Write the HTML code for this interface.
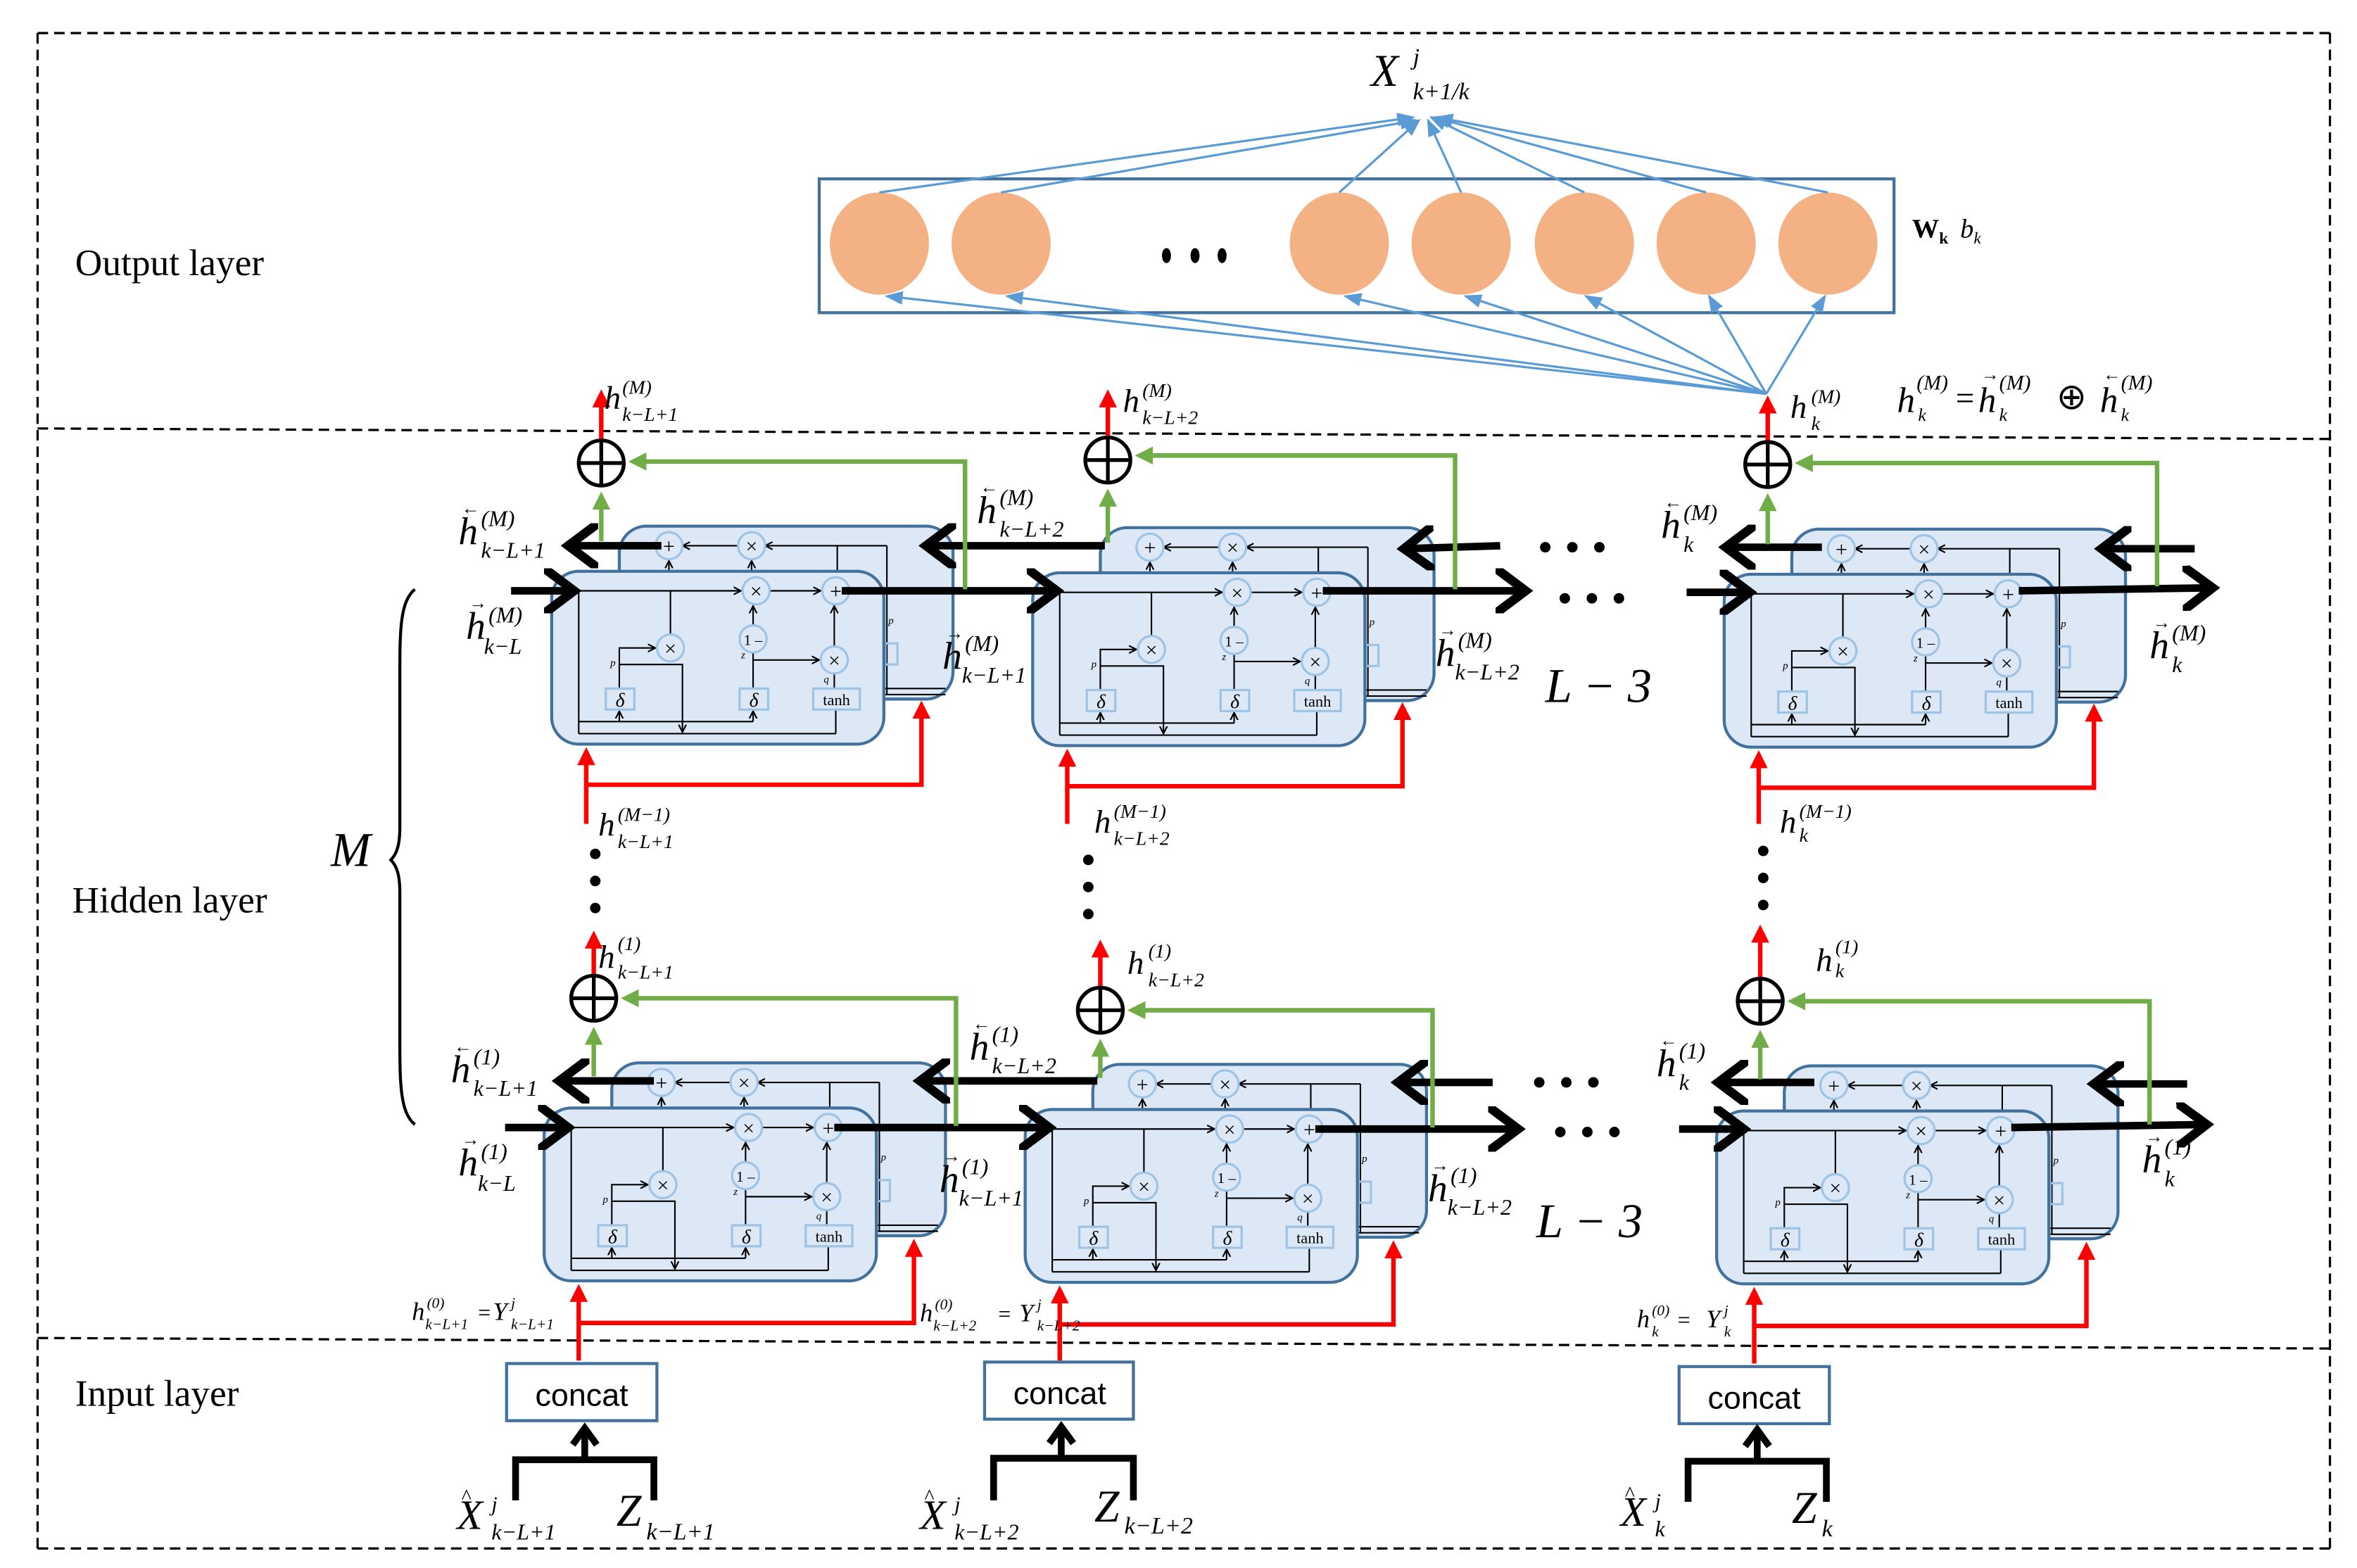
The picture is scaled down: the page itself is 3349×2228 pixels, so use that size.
<!DOCTYPE html>
<html><head><meta charset="utf-8"><style>
html,body{margin:0;padding:0;background:#fff}
svg{display:block}
text{font-family:"Liberation Serif",serif}
.it{font-style:italic}
</style></head><body>
<svg width="3349" height="2228" viewBox="0 0 1568 1043" preserveAspectRatio="none" xmlns="http://www.w3.org/2000/svg">
<defs>
<marker id="ak" markerWidth="6" markerHeight="6" refX="5" refY="3" orient="auto" markerUnits="userSpaceOnUse"><path d="M0,0.5 L5,3 L0,5.5" fill="none" stroke="#000" stroke-width="1"/></marker>
<marker id="ar" markerWidth="4" markerHeight="4" refX="3" refY="2" orient="auto"><path d="M0,0 L4,2 L0,4z" fill="#f00"/></marker>
<marker id="ag" markerWidth="4" markerHeight="4" refX="3" refY="2" orient="auto"><path d="M0,0 L4,2 L0,4z" fill="#70ad47"/></marker>
<marker id="ab" markerWidth="8" markerHeight="6" refX="7" refY="3" orient="auto"><path d="M0,0 L8,3 L0,6z" fill="#5b9bd5"/></marker>
<marker id="aK" markerWidth="5" markerHeight="6" refX="4" refY="3" orient="auto"><path d="M0,0 L4,3 L0,6" fill="none" stroke="#000" stroke-width="1.2"/></marker>
<g id="cell">
 <rect x="45" y="-30" width="222" height="115" rx="18" fill="#dce8f5" stroke="#41719c" stroke-width="2"/>
 <line x1="223" y1="-17" x2="142" y2="-17" stroke="#000" stroke-width="1" marker-end="url(#ak)"/>
 <line x1="124" y1="-17" x2="87" y2="-17" stroke="#000" stroke-width="1" marker-end="url(#ak)"/>
 <line x1="190" y1="-17" x2="190" y2="0" stroke="#000" stroke-width="1"/>
 <line x1="223" y1="-17" x2="223" y2="82" stroke="#000" stroke-width="1"/>
 <line x1="222" y1="78" x2="262" y2="78" stroke="#000" stroke-width="1"/>
 <line x1="222" y1="82" x2="262" y2="82" stroke="#000" stroke-width="1"/>
 <line x1="78" y1="0" x2="78" y2="-7" stroke="#000" stroke-width="1" marker-end="url(#ak)"/>
 <line x1="133" y1="0" x2="133" y2="-7" stroke="#000" stroke-width="1" marker-end="url(#ak)"/>
 <circle cx="78" cy="-17" r="9" fill="#dce8f5" stroke="#9dc3e6" stroke-width="1.5"/><text x="78" y="-12" font-size="14" text-anchor="middle">+</text>
 <circle cx="133" cy="-17" r="9" fill="#dce8f5" stroke="#9dc3e6" stroke-width="1.5"/><text x="133" y="-12" font-size="14" text-anchor="middle">×</text>
 <text x="224" y="35" font-size="7" class="it">p</text>
 <rect x="222" y="48" width="8" height="14" fill="none" stroke="#9dc3e6" stroke-width="1.5"/>
 <rect x="0" y="0" width="221" height="115" rx="18" fill="#dce8f5" stroke="#41719c" stroke-width="2"/>
 <line x1="18" y1="13" x2="126" y2="13" stroke="#000" stroke-width="1" marker-end="url(#ak)"/>
 <line x1="145" y1="13" x2="179" y2="13" stroke="#000" stroke-width="1" marker-end="url(#ak)"/>
 <line x1="18" y1="13" x2="18" y2="108" stroke="#000" stroke-width="1"/>
 <line x1="18" y1="100" x2="134" y2="100" stroke="#000" stroke-width="1"/>
 <line x1="18" y1="108" x2="189" y2="108" stroke="#000" stroke-width="1"/>
 <line x1="79" y1="13" x2="79" y2="42" stroke="#000" stroke-width="1"/>
 <polyline points="45,78 45,51 69,51" fill="none" stroke="#000" stroke-width="1" marker-end="url(#ak)"/>
 <polyline points="45,62 87,62 87,107" fill="none" stroke="#000" stroke-width="1" marker-end="url(#ak)"/>
 <line x1="45" y1="100" x2="45" y2="93" stroke="#000" stroke-width="1" marker-end="url(#ak)"/>
 <line x1="134" y1="100" x2="134" y2="93" stroke="#000" stroke-width="1" marker-end="url(#ak)"/>
 <line x1="134" y1="78" x2="134" y2="54" stroke="#000" stroke-width="1"/>
 <line x1="134" y1="37" x2="134" y2="23" stroke="#000" stroke-width="1" marker-end="url(#ak)"/>
 <line x1="134" y1="59" x2="178" y2="59" stroke="#000" stroke-width="1" marker-end="url(#ak)"/>
 <line x1="188" y1="50" x2="188" y2="23" stroke="#000" stroke-width="1" marker-end="url(#ak)"/>
 <line x1="188" y1="68" x2="188" y2="78" stroke="#000" stroke-width="1"/>
 <line x1="189" y1="92" x2="189" y2="108" stroke="#000" stroke-width="1"/>
 <circle cx="136" cy="13" r="9" fill="#dce8f5" stroke="#9dc3e6" stroke-width="1.5"/><text x="136" y="18" font-size="14" text-anchor="middle">×</text>
 <circle cx="189" cy="13" r="9" fill="#dce8f5" stroke="#9dc3e6" stroke-width="1.5"/><text x="189" y="18" font-size="14" text-anchor="middle">+</text>
 <circle cx="79" cy="51" r="9" fill="#dce8f5" stroke="#9dc3e6" stroke-width="1.5"/><text x="79" y="56" font-size="14" text-anchor="middle">×</text>
 <circle cx="134" cy="45" r="9" fill="#dce8f5" stroke="#9dc3e6" stroke-width="1.5"/><text x="134" y="49" font-size="10" text-anchor="middle">1 –</text>
 <circle cx="188" cy="59" r="9" fill="#dce8f5" stroke="#9dc3e6" stroke-width="1.5"/><text x="188" y="64" font-size="14" text-anchor="middle">×</text>
 <rect x="36" y="78" width="19" height="14" fill="#dce8f5" stroke="#9dc3e6" stroke-width="1.5"/><text x="45.5" y="90" font-size="13" text-anchor="middle" class="it">δ</text>
 <rect x="125" y="78" width="19" height="14" fill="#dce8f5" stroke="#9dc3e6" stroke-width="1.5"/><text x="134.5" y="90" font-size="13" text-anchor="middle" class="it">δ</text>
 <rect x="174" y="78" width="31" height="14" fill="#dce8f5" stroke="#9dc3e6" stroke-width="1.5"/><text x="189.5" y="89" font-size="10.5" text-anchor="middle">tanh</text>
 <text x="39" y="63" font-size="7" class="it">p</text>
 <text x="126" y="58" font-size="7" class="it">z</text>
 <text x="181" y="74" font-size="7" class="it">q</text>
</g>
</defs>

<g stroke="#000" stroke-width="1.5" stroke-dasharray="7,4" fill="none">
<line x1="25" y1="22" x2="1550" y2="22"/>
<line x1="25" y1="22" x2="25" y2="1030"/>
<line x1="1550" y1="22" x2="1550" y2="1030"/>
<line x1="25" y1="1030" x2="1550" y2="1030"/>
<line x1="25" y1="285" x2="1550" y2="292"/>
<line x1="25" y1="890" x2="1550" y2="897"/>
</g>
<text x="50" y="183" font-size="25">Output layer</text>
<text x="48" y="607" font-size="25">Hidden layer</text>
<text x="50" y="935" font-size="25">Input layer</text>

<rect x="545" y="119" width="715" height="89" fill="#fff" stroke="#41719c" stroke-width="2"/>
<g fill="#f4b183">
<ellipse cx="585" cy="162" rx="33" ry="34"/><ellipse cx="666" cy="162" rx="33" ry="34"/>
<ellipse cx="891" cy="162" rx="33" ry="34"/><ellipse cx="972" cy="162" rx="33" ry="34"/>
<ellipse cx="1054" cy="162" rx="33" ry="34"/><ellipse cx="1135" cy="162" rx="33" ry="34"/>
<ellipse cx="1216" cy="162" rx="33" ry="34"/>
</g>
<g fill="#000"><ellipse cx="776" cy="170" rx="3" ry="5"/><ellipse cx="795" cy="170" rx="3" ry="5"/><ellipse cx="813" cy="170" rx="3" ry="5"/></g>
<g stroke="#5b9bd5" stroke-width="1.5" fill="none">
<line x1="585" y1="128" x2="940" y2="78" marker-end="url(#ab)"/>
<line x1="666" y1="128" x2="942" y2="80" marker-end="url(#ab)"/>
<line x1="891" y1="128" x2="944" y2="80" marker-end="url(#ab)"/>
<line x1="972" y1="128" x2="950" y2="80" marker-end="url(#ab)"/>
<line x1="1054" y1="128" x2="952" y2="78" marker-end="url(#ab)"/>
<line x1="1135" y1="128" x2="954" y2="78" marker-end="url(#ab)"/>
<line x1="1216" y1="128" x2="956" y2="78" marker-end="url(#ab)"/>
<line x1="1175" y1="262" x2="590" y2="197" marker-end="url(#ab)"/>
<line x1="1175" y1="262" x2="670" y2="197" marker-end="url(#ab)"/>
<line x1="1175" y1="262" x2="895" y2="197" marker-end="url(#ab)"/>
<line x1="1175" y1="262" x2="975" y2="197" marker-end="url(#ab)"/>
<line x1="1175" y1="262" x2="1055" y2="197" marker-end="url(#ab)"/>
<line x1="1175" y1="262" x2="1137" y2="197" marker-end="url(#ab)"/>
<line x1="1175" y1="262" x2="1214" y2="197" marker-end="url(#ab)"/>
</g>
<text x="912" y="57" font-size="30" class="it">X</text><text x="940" y="43" font-size="16" class="it">j</text><text x="940" y="66" font-size="16" class="it">k+1/k</text>
<text x="1272" y="158" font-size="18" font-weight="bold">W<tspan font-size="11" dy="4">k</tspan></text><text x="1304" y="158" font-size="18" class="it">b<tspan font-size="11" dy="4">k</tspan></text>
<text x="1262" y="274" font-size="24" class="it">h</text><text x="1275" y="259" font-size="14" class="it">(M)</text><text x="1276" y="280" font-size="12" class="it">k</text>
<text x="1301" y="272" font-size="22">=</text>
<text x="1316" y="274" font-size="24" class="it">h</text><text x="1318" y="253" font-size="12">→</text><text x="1330" y="259" font-size="14" class="it">(M)</text><text x="1330" y="280" font-size="12" class="it">k</text>
<text x="1368" y="272" font-size="24">⊕</text>
<text x="1397" y="274" font-size="24" class="it">h</text><text x="1399" y="253" font-size="12">←</text><text x="1411" y="259" font-size="14" class="it">(M)</text><text x="1411" y="280" font-size="12" class="it">k</text>

<use href="#cell" x="367" y="380"/>
<use href="#cell" x="687" y="381"/>
<use href="#cell" x="1147" y="382"/>
<use href="#cell" x="362" y="737"/>
<use href="#cell" x="682" y="738"/>
<use href="#cell" x="1142" y="739"/>

<g stroke="#000" stroke-width="5" fill="none" marker-end="url(#aK)">
<line x1="340" y1="393" x2="382" y2="393"/>
<line x1="560" y1="393" x2="703" y2="393"/>
<line x1="880" y1="393" x2="1015" y2="393"/>
<line x1="1122" y1="394" x2="1164" y2="394"/>
<line x1="1343" y1="393" x2="1472" y2="391"/>
<line x1="440" y1="363" x2="378" y2="363"/>
<line x1="735" y1="363" x2="616" y2="363"/>
<line x1="998" y1="363" x2="934" y2="365"/>
<line x1="1212" y1="364" x2="1148" y2="364"/>
<line x1="1460" y1="365" x2="1398" y2="365"/>
<line x1="336" y1="750" x2="378" y2="750"/>
<line x1="555" y1="750" x2="698" y2="750"/>
<line x1="875" y1="751" x2="1010" y2="751"/>
<line x1="1117" y1="751" x2="1160" y2="751"/>
<line x1="1338" y1="750" x2="1468" y2="748"/>
<line x1="435" y1="719" x2="372" y2="719"/>
<line x1="730" y1="719" x2="612" y2="719"/>
<line x1="993" y1="720" x2="930" y2="720"/>
<line x1="1207" y1="720" x2="1143" y2="720"/>
<line x1="1455" y1="721" x2="1393" y2="721"/>
</g>
<g fill="#000">
<circle cx="1028" cy="364" r="3.5"/><circle cx="1046" cy="364" r="3.5"/><circle cx="1064" cy="364" r="3.5"/>
<circle cx="1041" cy="398" r="3.5"/><circle cx="1059" cy="398" r="3.5"/><circle cx="1077" cy="398" r="3.5"/>
<circle cx="1024" cy="720" r="3.5"/><circle cx="1042" cy="720" r="3.5"/><circle cx="1060" cy="720" r="3.5"/>
<circle cx="1038" cy="753" r="3.5"/><circle cx="1056" cy="753" r="3.5"/><circle cx="1074" cy="753" r="3.5"/>
<circle cx="396" cy="568" r="3.5"/><circle cx="396" cy="586" r="3.5"/><circle cx="396" cy="604" r="3.5"/>
<circle cx="724" cy="572" r="3.5"/><circle cx="724" cy="590" r="3.5"/><circle cx="724" cy="608" r="3.5"/>
<circle cx="1173" cy="566" r="3.5"/><circle cx="1173" cy="584" r="3.5"/><circle cx="1173" cy="602" r="3.5"/>
</g>

<g stroke="#f00" stroke-width="3" fill="none">
<line x1="390" y1="548" x2="390" y2="500" marker-end="url(#ar)"/>
<polyline points="390,522 613,522 613,469" marker-end="url(#ar)"/>
<line x1="710" y1="548" x2="710" y2="501" marker-end="url(#ar)"/>
<polyline points="710,523 933,523 933,470" marker-end="url(#ar)"/>
<line x1="1170" y1="548" x2="1170" y2="502" marker-end="url(#ar)"/>
<polyline points="1170,524 1393,524 1393,471" marker-end="url(#ar)"/>
<line x1="385" y1="905" x2="385" y2="857" marker-end="url(#ar)"/>
<polyline points="385,880 608,880 608,827" marker-end="url(#ar)"/>
<line x1="705" y1="905" x2="705" y2="858" marker-end="url(#ar)"/>
<polyline points="705,881 927,881 927,828" marker-end="url(#ar)"/>
<line x1="1167" y1="907" x2="1167" y2="859" marker-end="url(#ar)"/>
<polyline points="1167,882 1388,882 1388,829" marker-end="url(#ar)"/>
<line x1="400" y1="292" x2="400" y2="262" marker-end="url(#ar)"/>
<line x1="737" y1="290" x2="737" y2="262" marker-end="url(#ar)"/>
<line x1="1176" y1="293" x2="1176" y2="266" marker-end="url(#ar)"/>
<line x1="395" y1="648" x2="395" y2="622" marker-end="url(#ar)"/>
<line x1="732" y1="656" x2="732" y2="628" marker-end="url(#ar)"/>
<line x1="1171" y1="650" x2="1171" y2="618" marker-end="url(#ar)"/>
</g>
<g stroke="#70ad47" stroke-width="3" fill="none">
<line x1="400" y1="360" x2="400" y2="330" marker-end="url(#ag)"/>
<polyline points="642,392 642,307 421,307" marker-end="url(#ag)"/>
<line x1="737" y1="361" x2="737" y2="328" marker-end="url(#ag)"/>
<polyline points="968,392 968,303 758,303" marker-end="url(#ag)"/>
<line x1="1176" y1="362" x2="1176" y2="331" marker-end="url(#ag)"/>
<polyline points="1435,390 1435,308 1197,308" marker-end="url(#ag)"/>
<line x1="395" y1="716" x2="395" y2="686" marker-end="url(#ag)"/>
<polyline points="636,749 636,664 416,664" marker-end="url(#ag)"/>
<line x1="732" y1="717" x2="732" y2="694" marker-end="url(#ag)"/>
<polyline points="953,750 953,672 753,672" marker-end="url(#ag)"/>
<line x1="1171" y1="718" x2="1171" y2="688" marker-end="url(#ag)"/>
<polyline points="1430,748 1430,666 1192,666" marker-end="url(#ag)"/>
</g>
<g stroke="#000" stroke-width="2.5" fill="#fff">
<circle cx="400" cy="308" r="15"/><circle cx="737" cy="306" r="15"/><circle cx="1176" cy="309" r="15"/>
<circle cx="395" cy="664" r="15"/><circle cx="732" cy="672" r="15"/><circle cx="1171" cy="666" r="15"/>
</g>
<g stroke="#000" stroke-width="2.5">
<line x1="385" y1="308" x2="415" y2="308"/><line x1="400" y1="293" x2="400" y2="323"/>
<line x1="722" y1="306" x2="752" y2="306"/><line x1="737" y1="291" x2="737" y2="321"/>
<line x1="1161" y1="309" x2="1191" y2="309"/><line x1="1176" y1="294" x2="1176" y2="324"/>
<line x1="380" y1="664" x2="410" y2="664"/><line x1="395" y1="649" x2="395" y2="679"/>
<line x1="717" y1="672" x2="747" y2="672"/><line x1="732" y1="657" x2="732" y2="687"/>
<line x1="1156" y1="666" x2="1186" y2="666"/><line x1="1171" y1="651" x2="1171" y2="681"/>
</g>

<path d="M276,392 C266,400 266,420 266,450 L266,550 C266,562 264,568 260,572 C264,576 266,582 266,594 L266,690 C266,720 266,740 276,748" fill="none" stroke="#000" stroke-width="2"/>
<text x="220" y="576" font-size="32" class="it">M</text>
<text x="1028" y="467" font-size="32" class="it">L − 3</text>
<text x="1022" y="823" font-size="32" class="it">L − 3</text>

<g font-style="italic">
<text x="402" y="272" font-size="22">h</text><text x="414" y="262" font-size="13">(M)</text><text x="414" y="280" font-size="13">k−L+1</text>
<text x="747" y="274" font-size="22">h</text><text x="760" y="264" font-size="13">(M)</text><text x="760" y="282" font-size="13">k−L+2</text>
<text x="1191" y="278" font-size="22">h</text><text x="1205" y="268" font-size="13">(M)</text><text x="1205" y="286" font-size="13">k</text>
<text x="305" y="362" font-size="26">h</text><text x="307" y="342" font-size="12">←</text><text x="320" y="350" font-size="15">(M)</text><text x="320" y="371" font-size="15">k−L+1</text>
<text x="650" y="348" font-size="26">h</text><text x="652" y="328" font-size="12">←</text><text x="665" y="336" font-size="15">(M)</text><text x="665" y="357" font-size="15">k−L+2</text>
<text x="1105" y="358" font-size="26">h</text><text x="1107" y="338" font-size="12">←</text><text x="1120" y="346" font-size="15">(M)</text><text x="1120" y="367" font-size="15">k</text>
<text x="310" y="425" font-size="26">h</text><text x="312" y="405" font-size="12">→</text><text x="325" y="414" font-size="15">(M)</text><text x="322" y="435" font-size="15">k−L</text>
<text x="627" y="445" font-size="26">h</text><text x="629" y="425" font-size="12">→</text><text x="642" y="433" font-size="15">(M)</text><text x="640" y="454" font-size="15">k−L+1</text>
<text x="955" y="443" font-size="26">h</text><text x="957" y="423" font-size="12">→</text><text x="970" y="431" font-size="15">(M)</text><text x="968" y="452" font-size="15">k−L+2</text>
<text x="1430" y="438" font-size="26">h</text><text x="1432" y="418" font-size="12">→</text><text x="1445" y="426" font-size="15">(M)</text><text x="1445" y="447" font-size="15">k</text>
<text x="398" y="556" font-size="22">h</text><text x="411" y="546" font-size="13">(M−1)</text><text x="411" y="564" font-size="13">k−L+1</text>
<text x="728" y="554" font-size="22">h</text><text x="741" y="544" font-size="13">(M−1)</text><text x="741" y="562" font-size="13">k−L+2</text>
<text x="1184" y="554" font-size="22">h</text><text x="1197" y="544" font-size="13">(M−1)</text><text x="1197" y="560" font-size="13">k</text>
<text x="398" y="644" font-size="22">h</text><text x="411" y="632" font-size="13">(1)</text><text x="411" y="651" font-size="13">k−L+1</text>
<text x="750" y="648" font-size="22">h</text><text x="764" y="637" font-size="13">(1)</text><text x="764" y="656" font-size="13">k−L+2</text>
<text x="1208" y="646" font-size="22">h</text><text x="1221" y="634" font-size="13">(1)</text><text x="1221" y="650" font-size="13">k</text>
<text x="300" y="720" font-size="26">h</text><text x="302" y="700" font-size="12">←</text><text x="315" y="708" font-size="15">(1)</text><text x="315" y="729" font-size="15">k−L+1</text>
<text x="645" y="705" font-size="26">h</text><text x="647" y="685" font-size="12">←</text><text x="660" y="693" font-size="15">(1)</text><text x="660" y="714" font-size="15">k−L+2</text>
<text x="1102" y="716" font-size="26">h</text><text x="1104" y="696" font-size="12">←</text><text x="1117" y="704" font-size="15">(1)</text><text x="1117" y="725" font-size="15">k</text>
<text x="305" y="782" font-size="26">h</text><text x="307" y="762" font-size="12">→</text><text x="320" y="771" font-size="15">(1)</text><text x="318" y="792" font-size="15">k−L</text>
<text x="625" y="793" font-size="26">h</text><text x="627" y="773" font-size="12">→</text><text x="640" y="781" font-size="15">(1)</text><text x="638" y="802" font-size="15">k−L+1</text>
<text x="950" y="799" font-size="26">h</text><text x="952" y="779" font-size="12">→</text><text x="965" y="787" font-size="15">(1)</text><text x="963" y="808" font-size="15">k−L+2</text>
<text x="1425" y="780" font-size="26">h</text><text x="1427" y="760" font-size="12">→</text><text x="1440" y="768" font-size="15">(1)</text><text x="1440" y="789" font-size="15">k</text>
<text x="274" y="878" font-size="17">h</text><text x="284" y="870" font-size="10">(0)</text><text x="283" y="884" font-size="10">k−L+1</text>
<text x="318" y="878" font-size="15" font-style="normal">=</text><text x="328" y="878" font-size="17">Y</text><text x="340" y="870" font-size="10">j</text><text x="340" y="884" font-size="10">k−L+1</text>
<text x="612" y="879" font-size="17">h</text><text x="622" y="871" font-size="10">(0)</text><text x="621" y="885" font-size="10">k−L+2</text>
<text x="664" y="879" font-size="15" font-style="normal">=</text><text x="678" y="879" font-size="17">Y</text><text x="690" y="871" font-size="10">j</text><text x="690" y="885" font-size="10">k−L+2</text>
<text x="1089" y="883" font-size="17">h</text><text x="1099" y="875" font-size="10">(0)</text><text x="1099" y="889" font-size="10">k</text>
<text x="1116" y="883" font-size="15" font-style="normal">=</text><text x="1135" y="883" font-size="17">Y</text><text x="1147" y="875" font-size="10">j</text><text x="1147" y="889" font-size="10">k</text>
</g>

<g stroke="#41719c" stroke-width="2" fill="#fff">
<rect x="337" y="907" width="100" height="38"/>
<rect x="655" y="906" width="99" height="38"/>
<rect x="1117" y="909" width="100" height="38"/>
</g>
<g font-size="21" text-anchor="middle">
<text x="387" y="935" style="font-family:'Liberation Sans',sans-serif">concat</text>
<text x="705" y="934" style="font-family:'Liberation Sans',sans-serif">concat</text>
<text x="1167" y="937" style="font-family:'Liberation Sans',sans-serif">concat</text>
</g>
<g stroke="#000" stroke-width="4.5" fill="none">
<polyline points="343,998 343,971 435,971 435,998"/>
<polyline points="661,998 661,970 754,970 754,998"/>
<polyline points="1123,999 1123,972 1215,972 1215,999"/>
<line x1="389" y1="971" x2="389" y2="952"/><polyline points="381,961 389,950 397,961"/>
<line x1="706" y1="970" x2="706" y2="951"/><polyline points="698,960 706,949 714,960"/>
<line x1="1169" y1="972" x2="1169" y2="953"/><polyline points="1161,962 1169,951 1177,962"/>
</g>
<g font-style="italic">
<text x="304" y="1017" font-size="28">X</text><text x="307" y="1000" font-size="14" font-style="normal">^</text><text x="327" y="1005" font-size="14">j</text><text x="327" y="1024" font-size="15">k−L+1</text>
<text x="410" y="1015" font-size="30">Z</text><text x="430" y="1024" font-size="16">k−L+1</text>
<text x="612" y="1017" font-size="28">X</text><text x="615" y="1000" font-size="14" font-style="normal">^</text><text x="635" y="1005" font-size="14">j</text><text x="635" y="1024" font-size="15">k−L+2</text>
<text x="728" y="1012" font-size="30">Z</text><text x="748" y="1020" font-size="16">k−L+2</text>
<text x="1078" y="1015" font-size="28">X</text><text x="1081" y="998" font-size="14" font-style="normal">^</text><text x="1101" y="1003" font-size="14">j</text><text x="1101" y="1022" font-size="15">k</text>
<text x="1192" y="1013" font-size="30">Z</text><text x="1212" y="1022" font-size="16">k</text>
</g>
</svg>
</body></html>
